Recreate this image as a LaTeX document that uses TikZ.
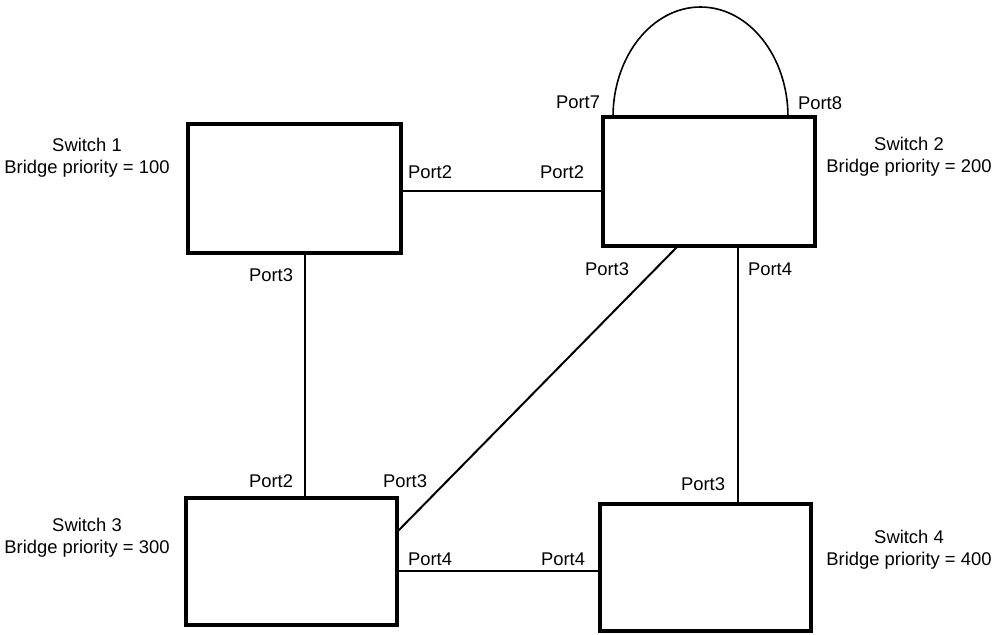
\documentclass[tikz,border=0pt]{standalone}
\usepackage{fontspec}
\setmainfont{Liberation Sans}
\begin{document}
\begin{tikzpicture}[x=0.5pt,y=-0.5pt,
  sw/.style={draw,line width=2pt,rectangle,inner sep=0pt,outer sep=0pt},
  link/.style={line width=1pt},
  loopline/.style={line width=0.8pt},
  lbl/.style={font=\fontsize{9.2}{11}\selectfont,inner sep=0pt},
  capt/.style={font=\fontsize{9.2}{11}\selectfont,align=center,inner sep=0pt,anchor=base}]
\useasboundingbox (0,0) rectangle (993,634);
\clip (0,0) rectangle (993,634);
% switches
\node[sw,minimum width=106.5pt,minimum height=64.5pt] (s1) at (294.5,188.5) {};
\node[sw,minimum width=106pt,minimum height=64.5pt] (s2) at (709,181.5) {};
\node[sw,minimum width=105.5pt,minimum height=63.5pt] (s3) at (291.5,561.5) {};
\node[sw,minimum width=105.5pt,minimum height=63.5pt] (s4) at (705.5,567.5) {};
% helper coordinates for port positions
\coordinate (h12) at (0,191);
\coordinate (v13) at (305,0);
\coordinate (d23) at (678,0);
\coordinate (h23) at (0,532);
\coordinate (v24) at (738,0);
\coordinate (h34) at (0,571);
\coordinate (p7) at (613,0);
% links
\draw[link] (s1.east |- h12) -- (s2.west |- h12);
\draw[link] (s1.south -| v13) -- (s3.north -| v13);
\draw[link] (s2.south -| d23) -- (s3.east |- h23);
\draw[link] (s2.south -| v24) -- (s4.north -| v24);
\draw[link] (s3.east |- h34) -- (s4.west |- h34);
\draw[loopline] (s2.north -| p7) arc[start angle=180,end angle=360,x radius=87.5,y radius=110];
% captions
\node[capt] (c1) at (87,173) {Switch 1\\Bridge priority = 100};
\node[capt] (c2) at (909,172) {Switch 2\\Bridge priority = 200};
\node[capt] (c3) at (87,553) {Switch 3\\Bridge priority = 300};
\node[capt] (c4) at (909,565) {Switch 4\\Bridge priority = 400};
% port labels
\node[lbl] (l12a) at (430,172) {Port2};
\node[lbl] (l12b) at (562,172) {Port2};
\node[lbl] (l7) at (578,102) {Port7};
\node[lbl] (l8) at (820,103) {Port8};
\node[lbl] (l13a) at (271,275) {Port3};
\node[lbl] (l23a) at (607,269) {Port3};
\node[lbl] (l24a) at (770,269) {Port4};
\node[lbl] (l13b) at (271,481) {Port2};
\node[lbl] (l23b) at (405,481) {Port3};
\node[lbl] (l24b) at (703,484) {Port3};
\node[lbl] (l34a) at (430,559) {Port4};
\node[lbl] (l34b) at (563,559) {Port4};
\end{tikzpicture}
\end{document}
